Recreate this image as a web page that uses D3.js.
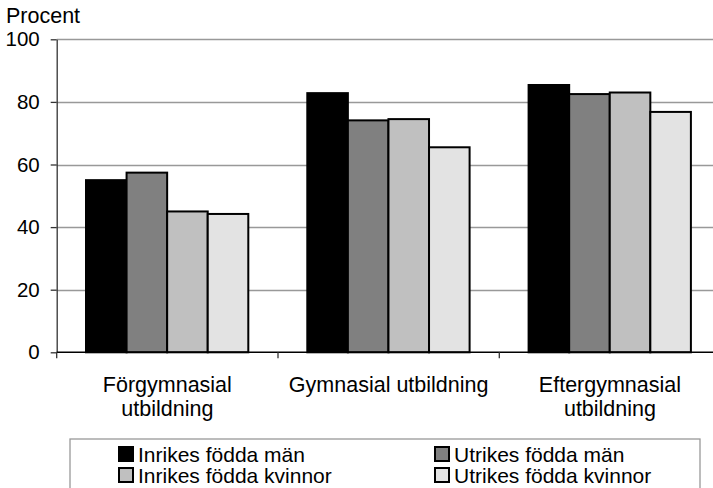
<!DOCTYPE html>
<html lang="sv">
<head>
  <meta charset="UTF-8"/>
  <title>Procent per utbildning</title>
  <script src="https://d3js.org/d3.v7.min.js"></script>
  <style>
    body { margin: 0; background: #fff; }
    text { font-family: "Liberation Sans", Arial, sans-serif; fill: #000; }
  </style>
</head>
<body>
<script>

  // data
  var categories = [["Förgymnasial", "utbildning"], ["Gymnasial utbildning"], ["Eftergymnasial", "utbildning"]];
  var series = ["Inrikes födda män", "Utrikes födda män", "Inrikes födda kvinnor", "Utrikes födda kvinnor"];
  var inrikesMan = [55.0, 82.8, 85.4];
  var utrikesMan = [57.4, 74.1, 82.5];
  var inrikesKvinnor = [45.0, 74.5, 83.0];
  var utrikesKvinnor = [44.2, 65.5, 76.8];
  var yTicks = [0, 20, 40, 60, 80, 100];

  var values = [inrikesMan, utrikesMan, inrikesKvinnor, utrikesKvinnor];
  var colors = ["#000000", "#808080", "#c0c0c0", "#e3e3e3"];

  var w = 713;
  var h = 488;
  var plotLeft = 56.7, plotRight = 720.6, plotTop = 39.3, plotBottom = 352.3;

  var svg = d3.select("body")
              .append("svg")
              .attr("width", w)
              .attr("height", h);

  var x0 = d3.scaleBand()
             .domain(d3.range(categories.length))
             .range([plotLeft, plotRight]);

  var x1 = d3.scaleBand()
             .domain(d3.range(series.length))
             .range([29.3, x0.bandwidth() - 29.7]);

  var yScale = d3.scaleLinear()
                 .domain([0, 100])
                 .range([plotBottom, plotTop]);

  // gridlines
  svg.selectAll("line.grid")
     .data(yTicks.filter(function(d) { return d > 0; }))
     .enter()
     .append("line")
     .attr("class", "grid")
     .attr("x1", plotLeft)
     .attr("x2", plotRight)
     .attr("y1", function(d) { return Math.round(yScale(d)) + 0.5; })
     .attr("y2", function(d) { return Math.round(yScale(d)) + 0.5; })
     .attr("stroke", "#999")
     .attr("stroke-width", 1.3);

  // bars
  var groups = svg.selectAll("g.group")
                  .data(categories)
                  .enter()
                  .append("g")
                  .attr("class", "group")
                  .attr("transform", function(d, i) { return "translate(" + x0(i) + ",0)"; });

  groups.selectAll("rect")
        .data(function(d, i) {
          return series.map(function(s, j) { return { s: j, v: values[j][i] }; });
        })
        .enter()
        .append("rect")
        .attr("x", function(d) { return x1(d.s); })
        .attr("y", function(d) { return yScale(d.v); })
        .attr("width", x1.bandwidth())
        .attr("height", function(d) { return plotBottom - yScale(d.v); })
        .attr("fill", function(d) { return colors[d.s]; })
        .attr("stroke", "#000")
        .attr("stroke-width", 2);

  // y axis
  var yAxis = d3.axisLeft(yScale)
                .tickValues(yTicks)
                .tickSize(6)
                .tickPadding(11)
                .tickSizeOuter(0);

  var ya = svg.append("g")
              .attr("transform", "translate(" + plotLeft + ",0)")
              .call(yAxis);
  ya.select(".domain").attr("stroke", "#333").attr("stroke-width", 1.3);
  ya.selectAll(".tick line").attr("stroke", "#333").attr("stroke-width", 1.3);
  ya.selectAll("text")
    .style("font-size", "20.5px")
    .attr("fill", "#000");

  // x axis line and ticks at category edges
  svg.append("line")
     .attr("x1", plotLeft)
     .attr("x2", plotRight)
     .attr("y1", plotBottom)
     .attr("y2", plotBottom)
     .attr("stroke", "#000")
     .attr("stroke-width", 1.5);

  svg.selectAll("line.xtick")
     .data(d3.range(categories.length + 1))
     .enter()
     .append("line")
     .attr("class", "xtick")
     .attr("x1", function(d) { return plotLeft + d * x0.step(); })
     .attr("x2", function(d) { return plotLeft + d * x0.step(); })
     .attr("y1", plotBottom)
     .attr("y2", plotBottom + 6)
     .attr("stroke", "#333")
     .attr("stroke-width", 1.3);

  // category labels
  var labels = svg.selectAll("text.cat")
                  .data(categories)
                  .enter()
                  .append("text")
                  .attr("class", "cat")
                  .attr("text-anchor", "middle")
                  .style("font-size", "21.5px")
                  .attr("x", function(d, i) { return x0(i) + x0.bandwidth() / 2; })
                  .attr("y", 391.7);

  labels.selectAll("tspan")
        .data(function(d) { return d; })
        .enter()
        .append("tspan")
        .attr("x", function() { return d3.select(this.parentNode).attr("x"); })
        .attr("dy", function(d, i) { return i === 0 ? 0 : 24.5; })
        .text(function(d) { return d; });

  // y title
  svg.append("text")
     .attr("x", 6)
     .attr("y", 23)
     .style("font-size", "21.5px")
     .text("Procent");

  // legend
  svg.append("rect")
     .attr("x", 70)
     .attr("y", 439)
     .attr("width", 630)
     .attr("height", 60)
     .attr("fill", "#fff")
     .attr("stroke", "#999")
     .attr("stroke-width", 1.3);

  var legendX = [119, 435];
  var legendY = [447, 468];

  var items = svg.selectAll("g.legend")
                 .data(series)
                 .enter()
                 .append("g")
                 .attr("class", "legend")
                 .attr("transform", function(d, i) {
                   return "translate(" + legendX[i % 2] + "," + legendY[Math.floor(i / 2)] + ")";
                 });

  items.append("rect")
       .attr("width", 14)
       .attr("height", 14)
       .attr("fill", function(d, i) { return colors[i]; })
       .attr("stroke", "#000")
       .attr("stroke-width", 2);

  items.append("text")
       .attr("x", 19)
       .attr("y", 14.5)
       .style("font-size", "21px")
       .text(function(d) { return d; });

</script>
</body>
</html>
